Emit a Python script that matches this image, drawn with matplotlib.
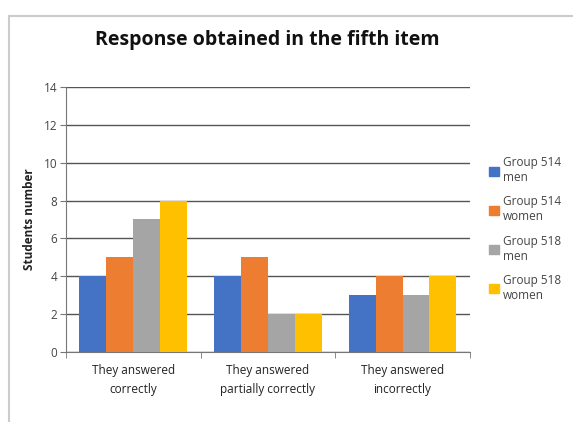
import matplotlib
matplotlib.use("Agg")
import matplotlib.pyplot as plt
import numpy as np
from matplotlib.patches import Rectangle
from matplotlib.lines import Line2D

categories = ["They answered\ncorrectly", "They answered\npartially correctly", "They answered\nincorrectly"]
series_names = ["Group 514\nmen", "Group 514\nwomen", "Group 518\nmen", "Group 518\nwomen"]
g514_men = [4, 4, 3]
g514_women = [5, 5, 4]
g518_men = [7, 2, 3]
g518_women = [8, 2, 4]
yticks = [0, 2, 4, 6, 8, 10, 12, 14]
colors = ["#4472C4", "#ED7D31", "#A5A5A5", "#FFC000"]

series = [g514_men, g514_women, g518_men, g518_women]

plt.rcParams['font.family'] = ['Open Sans', 'DejaVu Sans']
fig = plt.figure(figsize=(5.73, 4.22), dpi=100)
ax = fig.add_axes([0.115, 0.166, 0.705, 0.628])

x = np.arange(len(categories))
w = 0.2
for i, (vals, name, c) in enumerate(zip(series, series_names, colors)):
    ax.bar(x + (i - 1.5) * w, vals, width=w, color=c, label=name, zorder=3)

ax.set_xlim(-0.5, 2.5)
ax.set_ylim(0, 14)
ax.set_yticks(yticks)
ax.set_yticklabels([str(t) for t in yticks], fontsize=8.5, color="#444444")
ax.yaxis.grid(True, color="#555555", linewidth=1.0, zorder=0)
ax.set_axisbelow(True)

ax.set_xticks(x)
ax.set_xticklabels(categories, fontsize=8.5, color="#222222", linespacing=1.6)
ax.tick_params(axis='x', length=0, pad=9)
ax.set_xticks([-0.5, 0.5, 1.5, 2.5], minor=True)
ax.tick_params(axis='x', which='minor', length=4, color="#777777")
ax.tick_params(axis='y', length=4, color="#777777", pad=2)

for s in ["top", "right"]:
    ax.spines[s].set_visible(False)
ax.spines["left"].set_color("#777777")
ax.spines["bottom"].set_color("#777777")

ax.set_ylabel("Students number", fontsize=8.5, fontweight="bold", color="#222222", labelpad=6)

fig.text(0.466, 0.905, "Response obtained in the fifth item", ha="center", va="center",
         fontsize=14, fontweight="bold", color="#111111")

handles = [Rectangle((0, 0), 1, 1, color=c) for c in colors]
leg = fig.legend(handles, series_names, loc="upper left", bbox_to_anchor=(0.835, 0.655),
                 frameon=False, fontsize=8.5, handlelength=0.8, handleheight=0.8,
                 labelspacing=0.95, handletextpad=0.4)
for t in leg.get_texts():
    t.set_color("#444444")

# outer frame
fig.add_artist(Line2D([9/573, 9/573], [0, 1 - 16/422], color="#cccccc", lw=1.5, transform=fig.transFigure))
fig.add_artist(Line2D([9/573, 1], [1 - 16/422, 1 - 16/422], color="#cccccc", lw=1.5, transform=fig.transFigure))

fig.savefig("out.png", dpi=100)
